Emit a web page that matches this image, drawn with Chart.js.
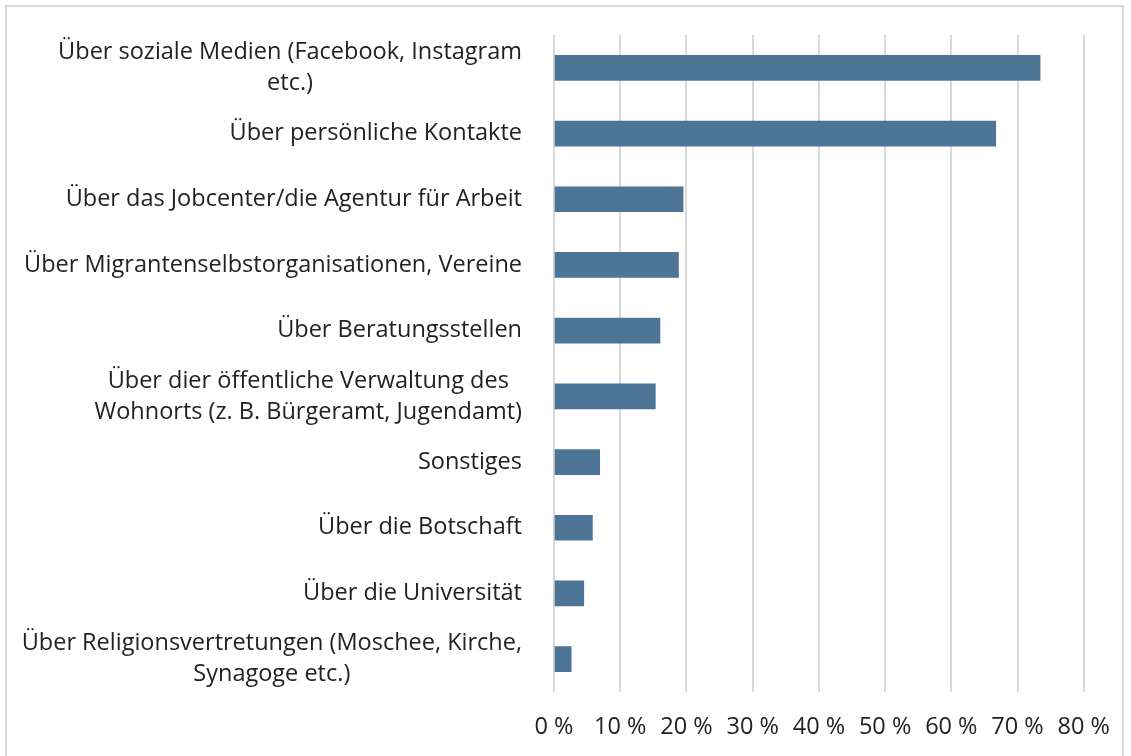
<!DOCTYPE html>
<html>
<head>
<meta charset="utf-8">
<script src="https://cdn.jsdelivr.net/npm/chart.js@4"></script>
<style>
  html, body { margin: 0; padding: 0; background: #fff; }
  #wrap { position: relative; width: 1131px; height: 756px; overflow: hidden; }
  #frame { position: absolute; left: 5px; top: 5px; width: 1119px; height: 760px; border: 2px solid #d9d9d9; box-sizing: border-box; }
  canvas { position: absolute; left: 0; top: 0; }
</style>
</head>
<body>
<div id="wrap">
  <div id="frame"></div>
  <canvas id="chart" width="1131" height="756"></canvas>
</div>
<script>
// Wege, über die Informationen bezogen wurden (Anteil in %)
const categories = [
  ["Über soziale Medien (Facebook, Instagram", "etc.)"],
  "Über persönliche Kontakte",
  "Über das Jobcenter/die Agentur für Arbeit",
  "Über Migrantenselbstorganisationen, Vereine",
  "Über Beratungsstellen",
  ["Über dier öffentliche Verwaltung des", "Wohnorts (z. B. Bürgeramt, Jugendamt)"],
  "Sonstiges",
  "Über die Botschaft",
  "Über die Universität",
  ["Über Religionsvertretungen (Moschee, Kirche,", "Synagoge etc.)"]
];
const shares = [73.4, 66.7, 19.5, 18.8, 16.0, 15.3, 6.9, 5.8, 4.5, 2.6];
const xTicks = [0, 10, 20, 30, 40, 50, 60, 70, 80];

const FONT = "'Open Sans', 'Liberation Sans', sans-serif";
const TEXT = "#222222";

// category labels: block right-aligned, lines centred inside the block (like Excel)
const catLabels = {
  id: "catLabels",
  afterDraw(chart) {
    const ctx = chart.ctx;
    const y = chart.scales.y;
    ctx.save();
    ctx.font = "23.5px " + FONT;
    ctx.fillStyle = TEXT;
    ctx.textAlign = "center";
    ctx.textBaseline = "middle";
    categories.forEach((lab, i) => {
      const lines = Array.isArray(lab) ? lab : [lab];
      const w = Math.max(...lines.map(t => ctx.measureText(t).width));
      const cx = 522 - w / 2;
      const cy = y.getPixelForValue(i);
      lines.forEach((t, k) => {
        ctx.fillText(t, cx, cy + (k - (lines.length - 1) / 2) * 31);
      });
    });
    ctx.restore();
  }
};

new Chart(document.getElementById("chart"), {
  type: "bar",
  data: {
    labels: categories,
    datasets: [{
      data: shares,
      backgroundColor: "#4e7496",
      borderWidth: 0,
      barThickness: 25
    }]
  },
  options: {
    indexAxis: "y",
    responsive: false,
    animation: false,
    layout: { padding: { left: 6, right: 46, top: 35, bottom: 0 } },
    plugins: { legend: { display: false }, tooltip: { enabled: false } },
    scales: {
      x: {
        min: 0,
        max: 80,
        afterBuildTicks: s => { s.ticks = xTicks.map(v => ({ value: v })); },
        afterFit: s => { s.height = 64; },
        grid: { color: "#d9d9d9", lineWidth: 2, drawTicks: false },
        border: { display: false },
        ticks: {
          padding: 21,
          color: TEXT,
          font: { family: FONT, size: 23.5 },
          callback: v => v + " %"
        }
      },
      y: {
        afterFit: s => { s.width = 548; },
        grid: { display: false },
        border: { display: false },
        ticks: { display: false }
      }
    }
  },
  plugins: [catLabels]
});
</script>
</body>
</html>
